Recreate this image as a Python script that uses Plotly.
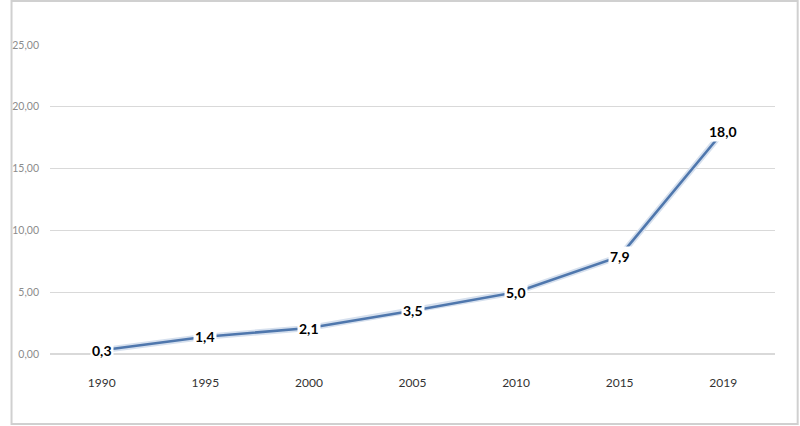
import plotly.graph_objects as go

years = ["1990", "1995", "2000", "2005", "2010", "2015", "2019"]
values = [0.3, 1.4, 2.1, 3.5, 5.0, 7.9, 18.0]
y_ticks = [0, 5, 10, 15, 20, 25]

W, H = 800, 426
ML, MR, MT, MB = 40, 25, 45, 72
pw, ph = W - ML - MR, H - MT - MB

fig = go.Figure()
fig.add_trace(go.Scatter(
    x=years, y=values, mode="lines",
    line=dict(color="#d6e0ee", width=6), hoverinfo="skip", showlegend=False))
fig.add_trace(go.Scatter(
    x=years, y=values, mode="lines",
    line=dict(color="#4f77ad", width=2.6), showlegend=False))

for i, v in enumerate(values):
    fig.add_annotation(
        x=i, y=v, xref="x", yref="y",
        text="<b>" + f"{v:.1f}".replace(".", ",") + "</b>",
        showarrow=False, bgcolor="white", borderpad=1,
        font=dict(family="Lato, Open Sans, sans-serif", size=14, color="#000000"))

# outer border
fig.add_shape(type="rect", xref="paper", yref="paper",
              x0=-(ML - 1) / pw, x1=1 + (MR - 2) / pw,
              y0=-(MB - 2) / ph, y1=1 + (MT - 1) / ph,
              line=dict(color="#d0d0d0", width=2), fillcolor="rgba(0,0,0,0)", layer="below")

fig.update_layout(
    width=W, height=H,
    margin=dict(l=ML, r=MR, t=MT, b=MB),
    paper_bgcolor="white", plot_bgcolor="white",
    separators=",.",
    font=dict(family="Lato, Open Sans, sans-serif"),
    xaxis=dict(type="category", range=[-0.5, 6.5], showgrid=False, showline=False,
               ticks="", tickfont=dict(size=12, color="#333333"), ticklabelstandoff=20),
    yaxis=dict(range=[0, 25], tickvals=y_ticks, tickformat=".2f",
               gridcolor="#d9d9d9", gridwidth=1, zeroline=True, zerolinecolor="#d9d9d9",
               showline=False, ticks="", tickfont=dict(size=10.5, color="#8c8c8c"),
               ticklabelstandoff=10),
)
fig.write_html("out.html", config={"displayModeBar": False},
               post_script="document.body.style.margin='0';document.body.style.overflow='hidden';")
